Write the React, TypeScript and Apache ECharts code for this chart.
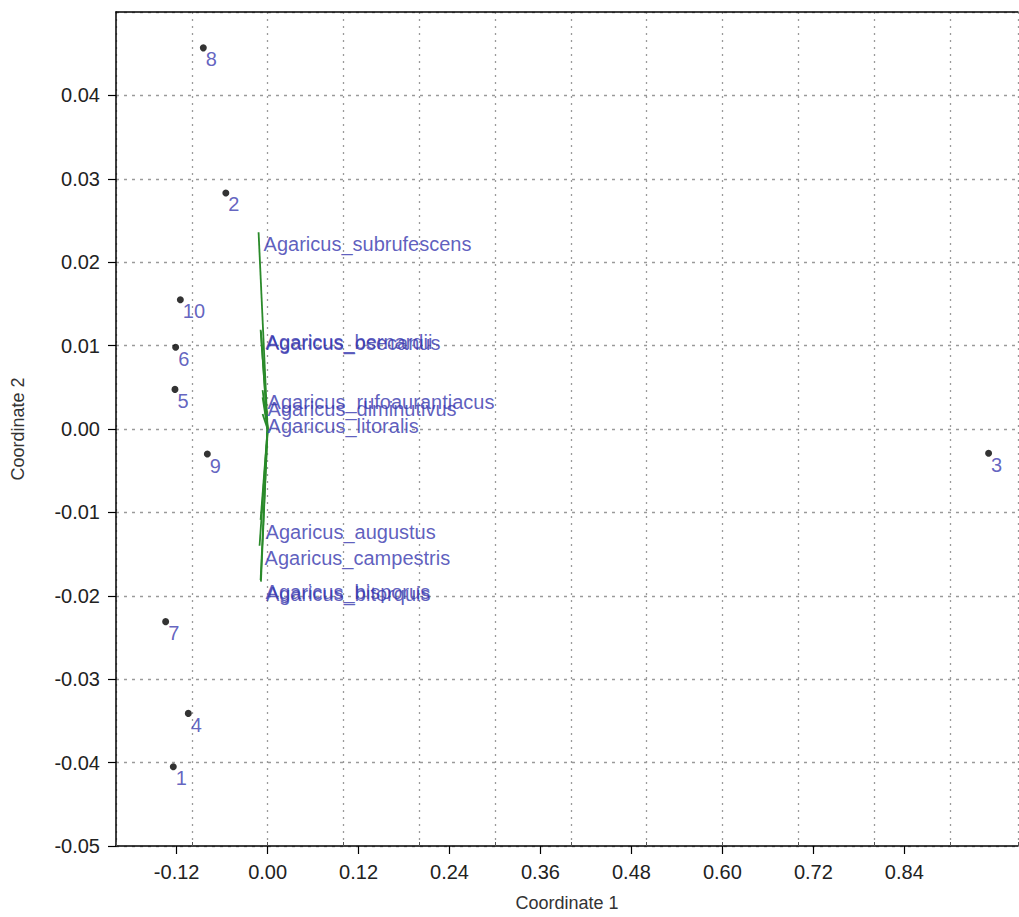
import React, { useEffect, useRef } from "react";
import * as echarts from "echarts";

// Sample scores (Coordinate 1, Coordinate 2)
const pointNames = ["8", "2", "10", "6", "5", "9", "3", "7", "4", "1"];
const pointX = [-0.0848, -0.0551, -0.1151, -0.1213, -0.1222, -0.0795, 0.9512, -0.1345, -0.1046, -0.1244];
const pointY = [0.0457, 0.0283, 0.0155, 0.0098, 0.00475, -0.0030, -0.0029, -0.0231, -0.0341, -0.0405];

// Species loadings (biplot vectors)
const speciesNames = [
  "Agaricus_subrufescens",
  "Agaricus_bernardii",
  "Agaricus_osecanus",
  "Agaricus_rufoaurantiacus",
  "Agaricus_diminutivus",
  "Agaricus_litoralis",
  "Agaricus_augustus",
  "Agaricus_campestris",
  "Agaricus_bisporus",
  "Agaricus_bitorquis",
];
const speciesX = [-0.0119, -0.0092, -0.0088, -0.0066, -0.0066, -0.0066, -0.0092, -0.0106, -0.0092, -0.0088];
const speciesY = [0.0236, 0.0119, 0.0117, 0.00465, 0.0038, 0.0018, -0.0109, -0.0140, -0.0181, -0.0183];

// Axis ticks
const xTickValues = [-0.12, 0, 0.12, 0.24, 0.36, 0.48, 0.6, 0.72, 0.84];
const xMin = -0.2;
const xMax = 0.99;
const xGridInterval = 0.1;
const yMin = -0.05;
const yMax = 0.05;
const yInterval = 0.01;

const FONT = "'Liberation Sans', Arial, sans-serif";
const fmt = (v: number) => (Math.abs(v) < 1e-9 ? "0.00" : v.toFixed(2));

export default function App() {
  const ref = useRef<HTMLDivElement>(null);
  useEffect(() => {
    if (!ref.current) return;
    const chart = echarts.init(ref.current, null, { renderer: "svg" });
    const gridLine = { show: true, lineStyle: { color: "#9a9a9a", type: [3, 5] as any, width: 1.3 } };
    chart.setOption({
      animation: false,
      backgroundColor: "#ffffff",
      grid: { left: 116, top: 12, right: 1, bottom: 66, containLabel: false },
      xAxis: [
        {
          type: "value",
          min: xMin,
          max: xMax,
          position: "bottom",
          name: "Coordinate 1",
          nameLocation: "middle",
          nameGap: 48,
          nameTextStyle: { fontSize: 18, color: "#333", fontFamily: FONT },
          axisLine: { show: true, onZero: false, lineStyle: { color: "#000", width: 1.5 } },
          axisTick: { show: true, length: 8, customValues: xTickValues, lineStyle: { color: "#000", width: 1.2 } },
          axisLabel: {
            show: true,
            customValues: xTickValues,
            formatter: (v: number) => fmt(v),
            fontSize: 20,
            color: "#222",
            fontFamily: FONT,
            margin: 16,
          },
          splitLine: { show: false },
        },
        {
          type: "value",
          min: xMin,
          max: xMax,
          interval: xGridInterval,
          position: "bottom",
          axisLine: { show: false, onZero: false },
          axisTick: { show: true, inside: true, length: 4, lineStyle: { color: "#555" } },
          axisLabel: { show: false },
          splitLine: { ...gridLine, lineStyle: { ...gridLine.lineStyle, type: [2, 5] as any } },
        },
        {
          type: "value",
          min: xMin,
          max: xMax,
          position: "top",
          axisLine: { show: true, onZero: false, lineStyle: { color: "#000", width: 1.5 } },
          axisTick: { show: false },
          axisLabel: { show: false },
          splitLine: { show: false },
        },
      ],
      yAxis: {
        type: "value",
        min: yMin,
        max: yMax,
        interval: yInterval,
        name: "Coordinate 2",
        nameLocation: "middle",
        nameGap: 89,
        nameTextStyle: { fontSize: 18, color: "#333", fontFamily: FONT },
        axisLine: { show: true, onZero: false, lineStyle: { color: "#000", width: 1.5 } },
        axisTick: { show: true, length: 8, lineStyle: { color: "#000", width: 1.2 } },
        axisLabel: {
          formatter: (v: number) => fmt(v),
          showMaxLabel: false,
          fontSize: 20,
          color: "#222",
          fontFamily: FONT,
          margin: 16,
        },
        splitLine: gridLine,
      },
      series: [
        {
          type: "lines",
          coordinateSystem: "cartesian2d",
          xAxisIndex: 0,
          yAxisIndex: 0,
          z: 3,
          silent: true,
          lineStyle: { color: "#2a8a2a", width: 1.8, opacity: 1 },
          data: speciesNames.map((n, i) => ({ name: n, coords: [[0, 0], [speciesX[i], speciesY[i]]] })),
        },
        {
          type: "scatter",
          xAxisIndex: 0,
          yAxisIndex: 0,
          z: 4,
          symbolSize: 0,
          silent: true,
          data: speciesNames.map((n, i) => ({ name: n, value: [speciesX[i], speciesY[i]] })),
          label: {
            show: true,
            position: [5, 12],
            align: "left",
            verticalAlign: "middle",
            formatter: (p: any) => p.name,
            fontSize: 20,
            color: "#3636ae",
            fontFamily: FONT,
          },
        },
        {
          type: "scatter",
          xAxisIndex: 0,
          yAxisIndex: 0,
          z: 5,
          symbol: "circle",
          symbolSize: 7,
          itemStyle: { color: "#000" },
          silent: true,
          data: pointNames.map((n, i) => ({ name: n, value: [pointX[i], pointY[i]] })),
          label: {
            show: true,
            position: [6, 15],
            align: "left",
            verticalAlign: "middle",
            formatter: (p: any) => p.name,
            fontSize: 20,
            color: "#3c3cb0",
            fontFamily: FONT,
          },
        },
      ],
    });
    return () => chart.dispose();
  }, []);
  return (
    <div
      ref={ref}
      style={{ position: "absolute", left: 0, top: 0, width: 1019, height: 917, background: "#fff" }}
    />
  );
}
